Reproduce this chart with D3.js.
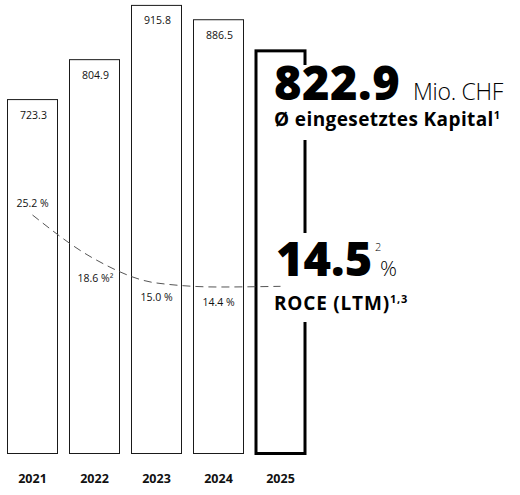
<!DOCTYPE html>
<html><head><meta charset="utf-8">
<script src="https://cdn.jsdelivr.net/npm/d3@7"></script>
<style>
html,body{margin:0;padding:0;background:#fff;}
svg{display:block;font-family:"Open Sans",sans-serif;}
</style></head>
<body>
<svg id="chart" width="520" height="495"></svg>
<script>
const years = ["2021","2022","2023","2024","2025"];
const capital = [723.3, 804.9, 915.8, 886.5, 822.9];
const roce = [25.2, 18.6, 15.0, 14.4, 14.5];
const capitalLabels = ["723.3","804.9","915.8","886.5"];
const roceLabels = ["25.2 %","18.6 %","15.0 %","14.4 %"];
const roceLabelSup = ["","²","",""];
const headline1 = "822.9", unit1 = "Mio. CHF", caption1 = "Ø eingesetztes Kapital", sup1 = "1";
const headline2 = "14.5", headSup2 = "2", unit2 = "%", caption2 = "ROCE (LTM)", sup2 = "1,3";

const svg = d3.select("#chart");
const base = 453.5;
const x = d3.scaleBand().domain(years).range([7.5, 305.5]).paddingInner(12/62).paddingOuter(0);
const y = d3.scaleLinear().domain([0, 1000]).range([base, base - 489.3]);
const yR = d3.scaleLinear().domain([0, 25.2]).range([383, 215]);

// bars 2021-2024
svg.append("g").selectAll("rect").data(years.slice(0,4)).join("rect")
  .attr("x", d => x(d)).attr("width", x.bandwidth())
  .attr("y", (d,i) => y(capital[i])).attr("height", (d,i) => base - y(capital[i]))
  .attr("fill", "#fff").attr("stroke", "#1a1a1a").attr("stroke-width", 1);

// bar 2025 (highlight)
svg.append("rect")
  .attr("x", x(years[4]) + 0.5).attr("width", x.bandwidth() - 1)
  .attr("y", y(capital[4])).attr("height", base - y(capital[4]))
  .attr("fill", "none").attr("stroke", "#000").attr("stroke-width", 3);

// value labels
svg.append("g").selectAll("text").data(capitalLabels).join("text")
  .attr("x", (d,i) => x(years[i]) + x.bandwidth()/2 + 1)
  .attr("y", (d,i) => y(capital[i]) + 19)
  .attr("text-anchor", "middle").attr("font-size", 10.5).attr("fill", "#111")
  .text(d => d);

// ROCE dashed line
const pts = years.map((d,i) => [x(d) + x.bandwidth()/2, yR(roce[i])]);
svg.append("path").attr("d", d3.line().curve(d3.curveMonotoneX)(pts))
  .attr("fill", "none").attr("stroke", "#555").attr("stroke-width", 1)
  .attr("stroke-dasharray", "8,5");

// ROCE labels
const offs = [-8, 23, 18, 19];
const rl = svg.append("g").selectAll("text").data(roceLabels).join("text")
  .attr("x", (d,i) => x(years[i]) + x.bandwidth()/2 + (i===1?1:0))
  .attr("y", (d,i) => yR(roce[i]) + offs[i])
  .attr("text-anchor", "middle").attr("font-size", 10.5).attr("fill", "#111");
rl.append("tspan").text(d => d);
rl.append("tspan").text((d,i) => roceLabelSup[i]);

// year axis
const xAxis = d3.axisBottom(x).tickSize(0).tickPadding(0);
const ax = svg.append("g").attr("transform", "translate(0,474)").call(xAxis);
ax.select(".domain").remove();
ax.selectAll("text").attr("font-size", 12.5).attr("font-weight", 700)
  .attr("font-family", "Open Sans, sans-serif").attr("fill", "#111");

// white gaps behind headline blocks
svg.append("rect").attr("x", 296).attr("y", 65).attr("width", 224).attr("height", 75).attr("fill", "#fff");
svg.append("rect").attr("x", 296).attr("y", 233).attr("width", 224).attr("height", 89).attr("fill", "#fff");

// headline 1
svg.append("text").attr("x", 274).attr("y", 100).attr("fill", "#000")
  .attr("font-size", 47).attr("font-weight", 800).attr("letter-spacing", 0.5).text(headline1);
svg.append("text").attr("x", 413).attr("y", 100).attr("fill", "#000")
  .attr("font-size", 23).attr("font-weight", 300).attr("letter-spacing", -0.3).text(unit1);
const c1 = svg.append("text").attr("x", 274).attr("y", 126).attr("fill", "#000")
  .attr("font-size", 19).attr("font-weight", 700).attr("letter-spacing", 0.4);
c1.append("tspan").text(caption1);
c1.append("tspan").attr("font-size", 11).attr("dy", -7).text(sup1);

// headline 2
svg.append("text").attr("x", 276).attr("y", 276).attr("fill", "#000")
  .attr("font-size", 47).attr("font-weight", 800).attr("letter-spacing", 0).text(headline2);
svg.append("text").attr("x", 375).attr("y", 251).attr("fill", "#000")
  .attr("font-size", 11).attr("font-weight", 300).text(headSup2);
svg.append("text").attr("x", 380).attr("y", 276).attr("fill", "#000")
  .attr("font-size", 21).attr("font-weight", 300).text(unit2);
const c2 = svg.append("text").attr("x", 274).attr("y", 310).attr("fill", "#000")
  .attr("font-size", 19).attr("font-weight", 700).attr("letter-spacing", 0.8);
c2.append("tspan").text(caption2);
c2.append("tspan").attr("font-size", 11).attr("dy", -7).text(sup2);
</script>
</body></html>
